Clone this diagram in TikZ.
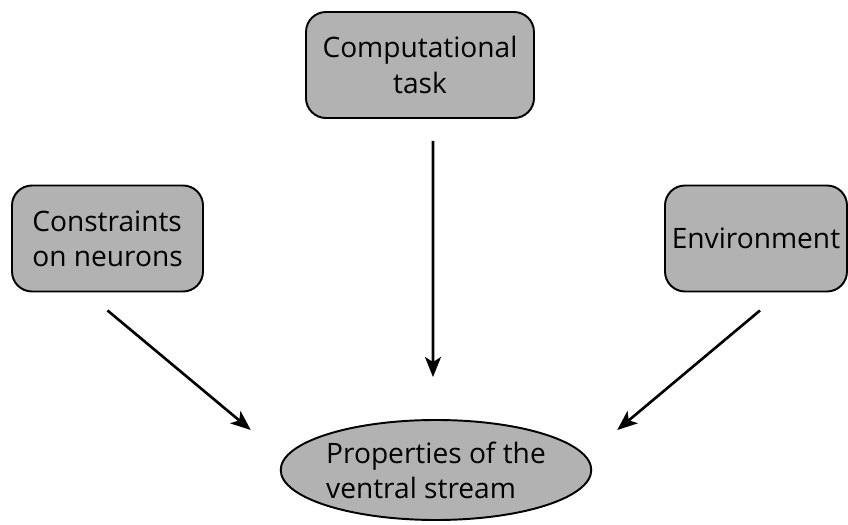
\documentclass[tikz,border=0pt]{standalone}
\usepackage{fontspec}
\setmainfont{Open Sans}
\usetikzlibrary{shapes.geometric, positioning, arrows.meta}

\begin{document}
\begin{tikzpicture}[node distance=2cm, auto, font=\fontsize{16}{20}\selectfont]

% Define styles
\tikzstyle{block} = [rectangle, draw, line width=1.1pt, fill=gray!60, rounded corners=0.4cm, minimum height=2.12cm]
\tikzstyle{target} = [ellipse, draw, line width=1.1pt, fill=gray!60, minimum width=5.96cm, minimum height=2cm, inner sep=0pt]
\tikzstyle{arrow} = [line width=1.5pt, -{Stealth[length=4mm, width=3.2mm, inset=1mm]}]

\useasboundingbox (0,0) rectangle (16.96,10.5);

% Inputs
\node [block, minimum width=4.56cm, align=center] (task) at (8.4,9.2) {Computational\\task};
\node [block, minimum width=3.82cm, align=left, below of=task, xshift=-6.25cm, yshift=-1.47cm] (constraints) {Constraints\\on neurons};
\node [block, minimum width=3.64cm, below of=task, xshift=6.72cm, yshift=-1.47cm] (environment) {Environment};

% Output
\node [target, align=left] (properties) at (8.72,1.1) {Properties of the\\ventral stream};

% Arrows
\draw [arrow] ([xshift=0.26cm, yshift=-0.44cm]task.south) -- ([xshift=-0.06cm, yshift=0.84cm]properties.north);
\draw [arrow] ([yshift=-0.36cm]constraints.south) -- ([xshift=-0.58cm, yshift=0.8cm]properties.west);
\draw [arrow] ([xshift=0.08cm, yshift=-0.36cm]environment.south) -- ([xshift=0.5cm, yshift=0.8cm]properties.east);

\end{tikzpicture}
\end{document}
